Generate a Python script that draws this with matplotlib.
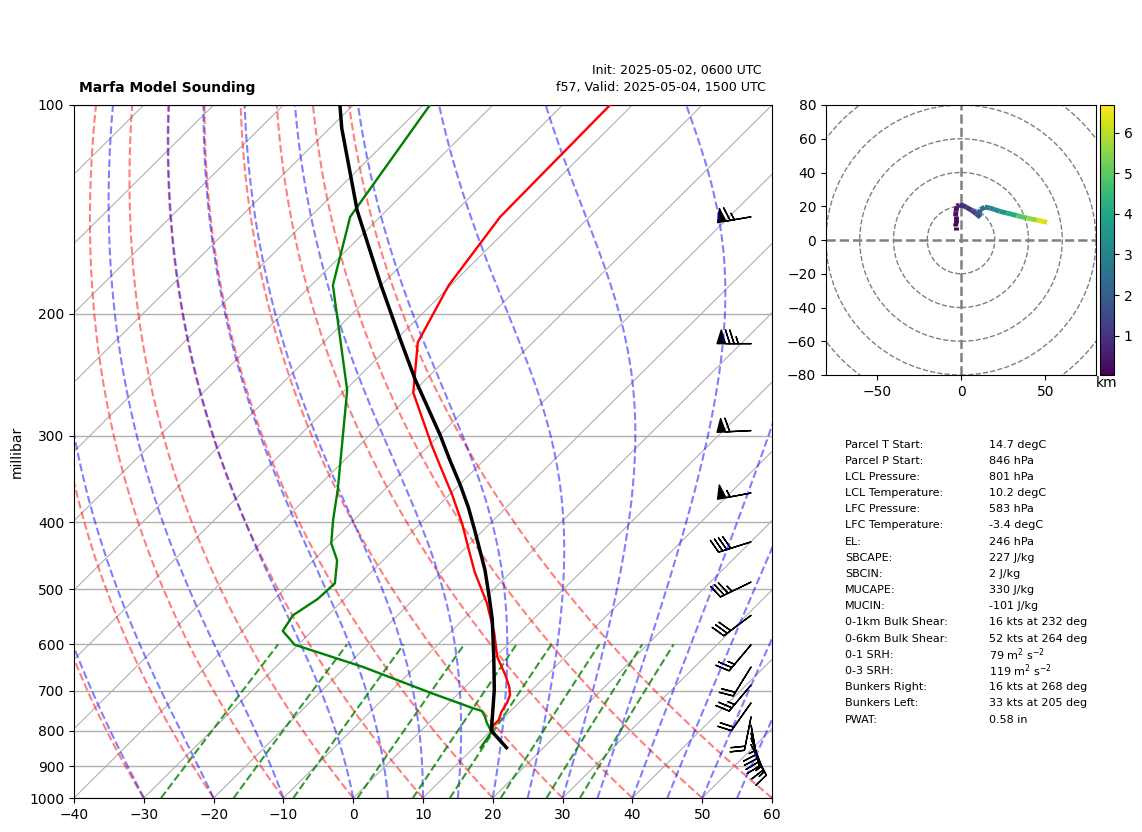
import numpy as np
import matplotlib
matplotlib.use("Agg")
import matplotlib.pyplot as plt
from matplotlib.collections import LineCollection
from matplotlib.patches import Circle

# sounding values
temp_p = [846, 801, 787, 772, 751, 729, 710, 691, 664, 626, 578, 523, 506, 472, 434, 401, 365, 331, 310, 291, 260, 220, 182, 145, 100]
temp_c = [14.7, 10.3, 9.6, 9.6, 8.8, 8.3, 7.6, 6.3, 4.0, 0.3, -3.6, -9.0, -11.0, -15.2, -19.8, -24.1, -29.6, -35.6, -39.6, -43.3, -49.9, -56.5, -60.3, -62.8, -63.2]

dew_p = [846, 803, 779, 764, 749, 742, 705, 647, 601, 574, 545, 516, 490, 454, 429, 397, 359, 258, 182, 145, 100]
dew_c = [11.0, 10.3, 8.3, 7.2, 5.9, 4.2, -4.1, -17.5, -30.5, -34.2, -35.0, -33.8, -33.6, -36.6, -39.9, -43.0, -46.7, -59.7, -76.9, -84.3, -89.0]

parcel_p = [846, 800, 698, 626, 553, 513, 469, 411, 381, 353, 326, 299, 249, 218, 182, 142, 108, 100]
parcel_c = [14.7, 10.1, 4.6, -0.2, -5.8, -9.5, -14.0, -21.2, -25.4, -29.9, -34.8, -40.0, -51.5, -59.4, -70.0, -84.2, -98.3, -101.9]

barb_p = [145, 221, 295, 363, 427, 488, 545, 601, 647, 687, 729, 764, 785, 806, 820, 838]
barb_u = [64, 75, 60, 54, 38, 31, 24, 16, 10.5, 16, 12, 4, -4.5, -5, -6, -7]
barb_v = [11, 0, 3, 10, 12, 15, 18, 19, 17, 19, 17, 20, 25, 20, 16, 14]

hodo_u = [-3, -3, -3.2, -3.2, -3, -2.4, -1, 0, 3, 6.5, 9, 11.5, 10.5, 11.5, 14, 17, 19.5, 23, 27, 33, 39, 45, 51]
hodo_v = [6, 8, 10, 14, 17, 20, 21, 21, 19.5, 17.5, 15.5, 13.5, 15, 18, 19.5, 19, 18.2, 17, 16, 14.5, 13, 11.8, 10.5]
hodo_km = [0.03, 0.06, 0.1, 0.2, 0.3, 0.4, 0.5, 0.65, 0.85, 1.05, 1.3, 1.6, 1.8, 2.0, 2.4, 2.7, 2.95, 3.2, 3.5, 4.1, 4.9, 5.6, 6.3]

# guide lines start values
isotherms = np.arange(-160, 61, 10)
dry_t0 = np.arange(-40, 61, 10)
moist_t0 = np.concatenate((np.arange(-40, 0, 10), np.arange(0, 61, 5)))
mixing = [0.0004, 0.001, 0.002, 0.004, 0.007, 0.01, 0.016, 0.024, 0.032]

stat_names = ["Parcel T Start:", "Parcel P Start:", "LCL Pressure:", "LCL Temperature:", "LFC Pressure:",
              "LFC Temperature:", "EL:", "SBCAPE:", "SBCIN:", "MUCAPE:", "MUCIN:", "0-1km Bulk Shear:",
              "0-6km Bulk Shear:", "0-1 SRH:", "0-3 SRH:", "Bunkers Right:", "Bunkers Left:", "PWAT:"]
stat_values = ["14.7 degC", "846 hPa", "801 hPa", "10.2 degC", "583 hPa", "-3.4 degC", "246 hPa", "227 J/kg",
               "2 J/kg", "330 J/kg", "-101 J/kg", "16 kts at 232 deg", "52 kts at 264 deg",
               r"79 m$^2$ s$^{-2}$", r"119 m$^2$ s$^{-2}$", "16 kts at 268 deg", "33 kts at 205 deg", "0.58 in"]

W, H = 1142, 832


def px_axes(x0, y0, x1, y1):
    return fig.add_axes([x0 / W, 1 - y1 / H, (x1 - x0) / W, (y1 - y0) / H])


def skew(t, p):
    # one decade of pressure moves an isotherm 100 degrees to the right
    return np.asarray(t) + 100.0 * np.log10(1000.0 / np.asarray(p))


def moist_line(t0_c, pressures):
    def slope(p, t):
        es = 6.112 * np.exp(17.67 * (t - 273.15) / (t - 29.65))
        rs = 0.622 * es / (p - es)
        return (287.0 * t + 2.501e6 * rs) / (1005.0 + 2.501e6 ** 2 * rs * 0.622 / (287.0 * t ** 2)) / p
    out = [t0_c + 273.15]
    for a, b in zip(pressures[:-1], pressures[1:]):
        t = out[-1]
        h = b - a
        k1 = slope(a, t)
        k2 = slope(a + h / 2, t + h * k1 / 2)
        k3 = slope(a + h / 2, t + h * k2 / 2)
        k4 = slope(b, t + h * k3)
        out.append(t + h * (k1 + 2 * k2 + 2 * k3 + k4) / 6)
    return np.array(out) - 273.15


fig = plt.figure(figsize=(W / 100, H / 100), dpi=100)
ax = px_axes(74, 105, 772, 798)
ax.set_yscale("log")

p_grid = np.linspace(1000, 100, 181)
for t in isotherms:
    ax.plot(skew([t, t], [1000, 100]), [1000, 100], color="#b0b0b0", lw=0.8, zorder=1)
for t in dry_t0:
    t_line = (t + 273.15) * (p_grid / 1000.0) ** 0.2857 - 273.15
    ax.plot(skew(t_line, p_grid), p_grid, color="r", ls="--", lw=1.5, alpha=0.5)
for t in moist_t0:
    ax.plot(skew(moist_line(t, p_grid), p_grid), p_grid, color="b", ls="--", lw=1.5, alpha=0.5)
p_mix = np.linspace(1000, 600, 30)
for w in mixing:
    e = p_mix * w / (0.622 + w)
    td = 243.5 * np.log(e / 6.112) / (17.67 - np.log(e / 6.112))
    ax.plot(skew(td, p_mix), p_mix, color="g", ls="--", lw=1.5, alpha=0.8)

ax.plot(skew(temp_c, temp_p), temp_p, color="r", lw=1.7, zorder=4)
ax.plot(skew(dew_c, dew_p), dew_p, color="g", lw=1.7, zorder=4)
ax.plot(skew(parcel_c, parcel_p), parcel_p, color="k", lw=2.5, zorder=5)

ax.barbs(np.full(len(barb_p), 0.97), barb_p, barb_u, barb_v, transform=ax.get_yaxis_transform(),
         length=7, color="k", clip_on=True)

ax.set_xlim(-40, 60)
ax.set_ylim(1000, 100)
ax.set_xticks(np.arange(-40, 61, 10))
ax.set_yticks(np.arange(100, 1001, 100))
ax.set_yticklabels([str(v) for v in np.arange(100, 1001, 100)])
ax.minorticks_off()
ax.yaxis.grid(True, color="#b0b0b0", lw=1.0)
ax.set_axisbelow(True)
ax.set_ylabel("millibar")

fig.text(79 / W, 1 - 88 / H, "Marfa Model Sounding", fontsize=10, fontweight="bold", va="center")
fig.text(762 / W, 1 - 70.5 / H, "Init: 2025-05-02, 0600 UTC", fontsize=9, ha="right", va="center")
fig.text(766 / W, 1 - 88 / H, "f57, Valid: 2025-05-04, 1500 UTC", fontsize=9.1, ha="right", va="center")

# hodograph
hax = px_axes(826, 105, 1096, 375)
for r in range(20, 101, 20):
    hax.add_patch(Circle((0, 0), r, fill=False, ec="grey", ls="--", lw=1.0))
hax.axhline(0, color="grey", ls="--", lw=1.8)
hax.axvline(0, color="grey", ls="--", lw=1.8)
pts = np.column_stack([hodo_u, hodo_v]).reshape(-1, 1, 2)
segs = np.concatenate([pts[:-1], pts[1:]], axis=1)
lc = LineCollection(segs, cmap="viridis", linewidths=3.5, zorder=3)
lc.set_array(np.array(hodo_km[1:]))
lc.set_clim(0.03, 6.68)
hax.add_collection(lc)
hax.set_xlim(-80, 80)
hax.set_ylim(-80, 80)
hax.set_xticks([-50, 0, 50])
hax.set_yticks(np.arange(-80, 81, 20))

cax = px_axes(1100, 105, 1114, 375)
cb = fig.colorbar(lc, cax=cax)
cb.set_ticks([1, 2, 3, 4, 5, 6])
cax.set_xlabel("km", labelpad=1)

for i, (name, val) in enumerate(zip(stat_names, stat_values)):
    y = 1 - (444.5 + i * 16.18) / H
    fig.text(845 / W, y, name, fontsize=8, va="center")
    fig.text(989 / W, y, val, fontsize=8, va="center")

fig.savefig("out.png", dpi=100)
